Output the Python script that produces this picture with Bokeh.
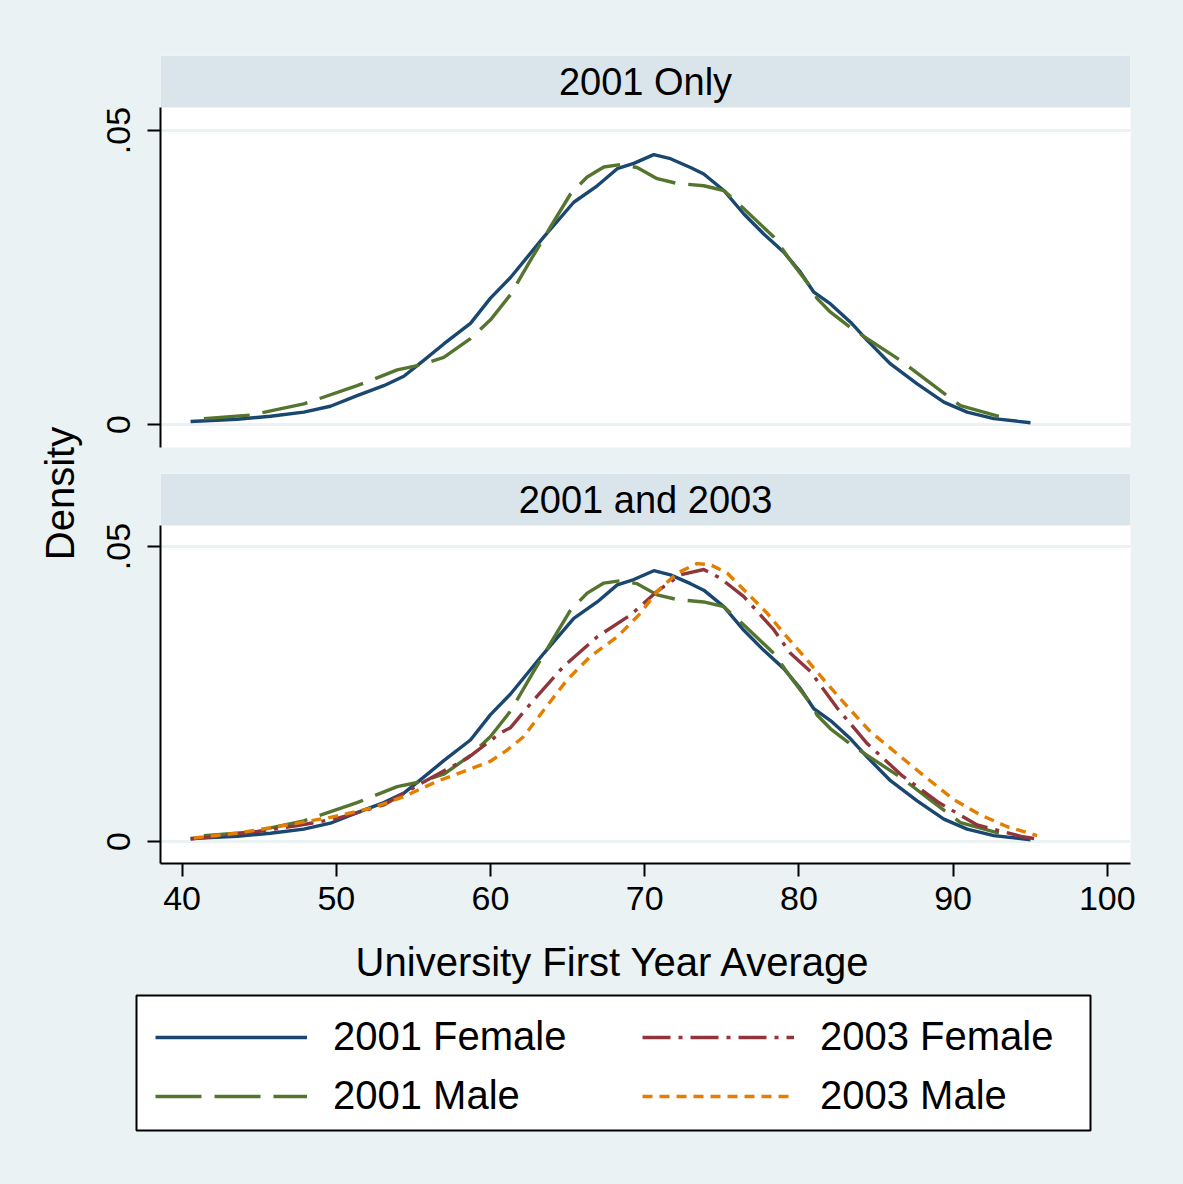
import math
from bokeh.plotting import figure
from bokeh.models import (Range1d, FixedTicker, Label, Legend, LegendItem,
                          CustomJSTickFormatter)
from bokeh.layouts import row, column
from bokeh.embed import file_html
from bokeh.resources import INLINE

# ---------------- data ----------------
x_f2001 = [40.55, 43.57, 45.73, 47.89, 49.62, 51.35, 53.08, 54.38, 55.67, 56.97,
           58.70, 60.00, 61.30, 63.46, 65.40, 66.92, 68.22, 69.29, 70.59, 71.67,
           72.97, 73.83, 75.13, 76.43, 77.72, 79.02, 80.10, 80.97, 82.05, 83.35,
           84.43, 85.94, 87.67, 89.40, 90.91, 92.64, 95.02]
y_f2001 = [0.0005, 0.0009, 0.0014, 0.0021, 0.0031, 0.0049, 0.0066, 0.0082, 0.0109, 0.0137,
           0.0172, 0.0215, 0.0250, 0.0319, 0.0378, 0.0406, 0.0435, 0.0444, 0.0459, 0.0452,
           0.0437, 0.0426, 0.0398, 0.0358, 0.0324, 0.0293, 0.0259, 0.0225, 0.0205, 0.0174,
           0.0143, 0.0103, 0.0069, 0.0038, 0.0021, 0.0010, 0.0003]

x_m2001 = [41.41, 44.44, 47.89, 51.35, 53.95, 55.25, 56.97, 58.70, 60.00, 61.30,
           62.59, 63.89, 65.19, 66.27, 67.35, 68.43, 69.51, 70.81, 72.11, 73.83,
           75.13, 76.43, 78.37, 79.45, 80.75, 81.19, 82.05, 83.35, 84.43, 86.59,
           88.75, 90.48, 92.97]
y_m2001 = [0.0010, 0.0016, 0.0035, 0.0066, 0.0093, 0.0100, 0.0114, 0.0146, 0.0178, 0.0221,
           0.0279, 0.0336, 0.0392, 0.0421, 0.0438, 0.0442, 0.0437, 0.0418, 0.0410, 0.0406,
           0.0398, 0.0367, 0.0319, 0.0279, 0.0234, 0.0214, 0.0191, 0.0165, 0.0146, 0.0109,
           0.0066, 0.0032, 0.0014]

x_f2003 = [40.55, 44.87, 47.50, 50.06, 53.08, 55.46, 58.49, 60.65, 61.30, 62.81,
           64.75, 66.92, 69.09, 70.81, 72.32, 73.83, 74.92, 76.43, 78.37, 79.45,
           80.75, 82.52, 84.43, 86.63, 89.01, 91.56, 94.52, 95.30]
y_f2003 = [0.0004, 0.0017, 0.0027, 0.0039, 0.0062, 0.0098, 0.0141, 0.0184, 0.0193, 0.0240,
           0.0297, 0.0347, 0.0384, 0.0424, 0.0452, 0.0461, 0.0446, 0.0415, 0.0359, 0.0319,
           0.0288, 0.0225, 0.0166, 0.0113, 0.0067, 0.0028, 0.0008, 0.0005]

x_m2003 = [40.76, 43.57, 46.82, 49.62, 52.22, 54.38, 56.54, 58.70, 60.00, 61.08,
           62.16, 63.46, 64.97, 66.49, 68.22, 69.73, 70.81, 72.11, 73.40, 74.27,
           75.35, 76.65, 77.94, 79.02, 80.32, 81.62, 83.13, 84.64, 86.59, 88.32,
           90.05, 91.78, 93.51, 95.45]
y_m2003 = [0.0006, 0.0014, 0.0028, 0.0041, 0.0056, 0.0076, 0.0102, 0.0123, 0.0136, 0.0155,
           0.0178, 0.0223, 0.0274, 0.0314, 0.0347, 0.0387, 0.0424, 0.0455, 0.0471, 0.0469,
           0.0455, 0.0421, 0.0387, 0.0353, 0.0314, 0.0274, 0.0229, 0.0186, 0.0144, 0.0107,
           0.0071, 0.0045, 0.0025, 0.0010]

x_ticks = [40, 50, 60, 70, 80, 90, 100]
y_ticks = [0, 0.05]
panel_titles = ["2001 Only", "2001 and 2003"]
series_labels = ["2001 Female", "2001 Male", "2003 Female", "2003 Male"]
x_title = "University First Year Average"
y_title = "Density"

# ---------------- styles ----------------
BG = "#EAF2F3"
HDR = "#D9E5EB"
NAVY = "#1A476F"
GREEN = "#55752F"
MAROON = "#90353B"
ORANGE = "#E37E00"
FONT = "Liberation Sans"
LW = 3.4
DASH = {"f2001": "solid", "m2001": "46 13", "f2003": "28 8 4 8", "m2003": "10 7"}

# ---------------- geometry (pixels) ----------------
W, H = 1183, 1184
LEFT_W = 85                 # column holding the "Density" label
FR_L, FR_R = 160, 1130      # frame left/right (page px)
X40_PX, PX_PER10 = 181.6, 154.2
x_start = 40 - (X40_PX - FR_L) / PX_PER10 * 10
x_end = 40 + (FR_R - X40_PX) / PX_PER10 * 10

def yrange(top_px, hdr_bot_px, bot_px, zero_px, tick05_px, title_px):
    per = 0.05 / (zero_px - tick05_px)
    return ((zero_px - bot_px) * per, (zero_px - top_px) * per,
            (zero_px - hdr_bot_px) * per, (zero_px - title_px) * per)


def panel(height, top_border, bot_border, yr, title, xaxis):
    y0, y1, hb, ty = yr
    p = figure(width=W - LEFT_W, height=height, output_backend="svg",
               toolbar_location=None, x_range=Range1d(x_start, x_end),
               y_range=Range1d(y0, y1),
               x_axis_type="linear" if xaxis else None,
               min_border_left=FR_L - LEFT_W, min_border_right=W - FR_R,
               min_border_top=top_border, min_border_bottom=bot_border)
    p.background_fill_color = "white"
    p.border_fill_color = BG
    p.outline_line_color = None
    # header band
    p.quad(left=[x_start], right=[x_end], bottom=[hb], top=[y1],
           fill_color=HDR, line_color=None)
    p.add_layout(Label(x=(x_start + x_end) / 2, y=ty, text=title,
                       text_align="center", text_baseline="middle",
                       text_font=FONT, text_font_size="38px", text_color="black"))
    # y axis
    ya = p.yaxis[0]
    ya.ticker = FixedTicker(ticks=y_ticks)
    ya.formatter = CustomJSTickFormatter(
        code="return tick === 0 ? '0' : tick.toFixed(2).replace(/^0/, '');")
    ya.bounds = (y0, hb)
    ya.axis_line_width = 2
    ya.axis_line_color = "black"
    ya.major_tick_line_width = 2
    ya.major_tick_out = 13
    ya.major_tick_in = 0
    ya.minor_tick_line_color = None
    ya.major_label_orientation = "vertical"
    ya.major_label_text_font = FONT
    ya.major_label_text_font_size = "34px"
    ya.major_label_text_color = "black"
    ya.major_label_standoff = 18
    p.ygrid.ticker = FixedTicker(ticks=y_ticks)
    p.ygrid.grid_line_color = BG
    p.ygrid.grid_line_width = 3
    if xaxis:
        p.xgrid.grid_line_color = None
        xa = p.xaxis[0]
        xa.ticker = FixedTicker(ticks=x_ticks)
        xa.axis_line_width = 2
        xa.axis_line_color = "black"
        xa.major_tick_line_width = 2
        xa.major_tick_out = 13
        xa.major_tick_in = 0
        xa.minor_tick_line_color = None
        xa.major_label_text_font = FONT
        xa.major_label_text_font_size = "34px"
        xa.major_label_text_color = "black"
        xa.major_label_standoff = 10
    return p


def add_lines(p, which):
    rs = {}
    spec = [("f2001", x_f2001, y_f2001, NAVY), ("m2001", x_m2001, y_m2001, GREEN),
            ("f2003", x_f2003, y_f2003, MAROON), ("m2003", x_m2003, y_m2003, ORANGE)]
    for key, xs, ys, col in spec:
        if key in which:
            rs[key] = p.line(xs, ys, line_color=col, line_width=LW,
                             line_dash=DASH[key], line_join="round")
    return rs

# top panel: page y 0..460
H1 = 460
yr1 = yrange(55, 107, 447, 424, 130, 81)
p1 = panel(H1, 55, H1 - 447, yr1, panel_titles[0], False)
add_lines(p1, ["f2001", "m2001"])

# bottom panel: page y 460..925
H2 = 465
yr2 = yrange(473, 525, 863, 841, 546, 499)
p2 = panel(H2, 473 - H1, H1 + H2 - 863, yr2, panel_titles[1], True)
add_lines(p2, ["f2003", "m2003", "m2001", "f2001"])

# left strip with the y title
dens = figure(width=LEFT_W, height=H1 + H2, output_backend="svg", toolbar_location=None,
              x_range=Range1d(0, LEFT_W), y_range=Range1d(0, H1 + H2),
              x_axis_type=None, y_axis_type=None, min_border=0)
dens.outline_line_color = None
dens.background_fill_color = BG
dens.border_fill_color = BG
dens.grid.visible = False
dens.add_layout(Label(x=59, y=H1 + H2 - 493, text=y_title, angle=math.pi / 2,
                      text_align="center", text_baseline="middle",
                      text_font=FONT, text_font_size="40px", text_color="black"))

# bottom strip: x title (as the strip's title, centred over the legend box) and legend.
# The line renderers here fall outside the 0..1 ranges; they only feed the legend.
H3 = H - H1 - H2
LB_L, LB_R, LB_T, LB_B = 136, 1090, 995, 1130
lf = figure(width=W, height=H3, output_backend="svg", toolbar_location=None,
            x_range=Range1d(0, 1), y_range=Range1d(0, 1),
            x_axis_type=None, y_axis_type=None,
            min_border_left=LB_L, min_border_right=W - LB_R,
            min_border_top=LB_T - (H1 + H2), min_border_bottom=H - LB_B)
lf.background_fill_color = "white"
lf.border_fill_color = BG
lf.outline_line_color = "black"
lf.outline_line_width = 2
lf.grid.visible = False
lf.title.text = x_title
lf.title.align = "center"
lf.title.text_font = FONT
lf.title.text_font_size = "40px"
lf.title.text_font_style = "normal"
lf.title.text_color = "black"
lf.title.standoff = 23
legend_r = add_lines(lf, ["f2001", "m2001", "f2003", "m2003"])

def make_legend(keys, labels, xoff):
    return Legend(items=[LegendItem(label=l, renderers=[legend_r[k]]) for k, l in zip(keys, labels)],
                  location=(xoff, 12), orientation="vertical",
                  glyph_width=152, glyph_height=44, label_height=44,
                  label_standoff=26, spacing=14, padding=0, margin=0,
                  border_line_color=None, background_fill_alpha=0,
                  label_text_font=FONT, label_text_font_size="40px",
                  label_text_color="black")

lf.add_layout(make_legend(["f2001", "m2001"], series_labels[:2], 155 - LB_L))
lf.add_layout(make_legend(["f2003", "m2003"], series_labels[2:], 642 - LB_L))

bgstyle = {"background-color": BG}
layout = column(row(dens, column(p1, p2, spacing=0, styles=bgstyle), spacing=0, styles=bgstyle),
                lf, spacing=0, styles=bgstyle)
open("out.html", "w").write(file_html(layout, INLINE))
